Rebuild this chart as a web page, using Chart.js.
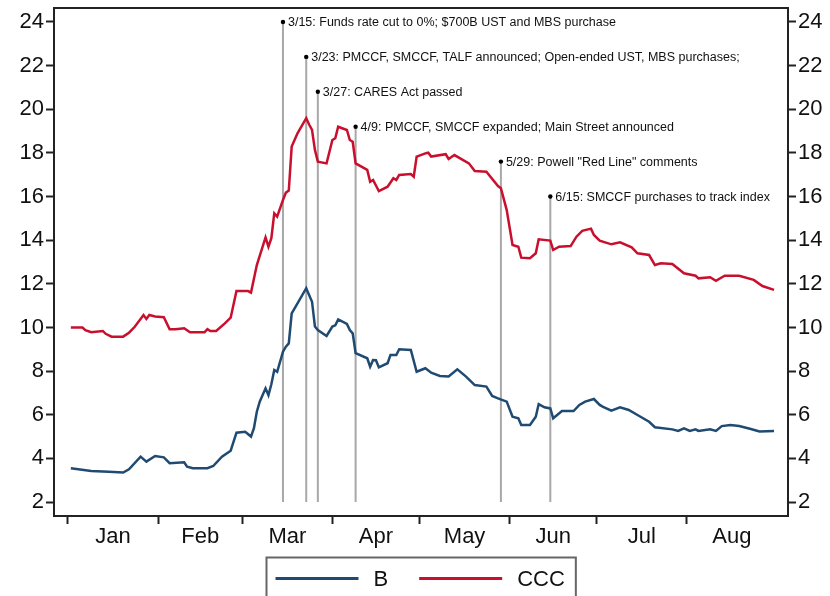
<!DOCTYPE html>
<html>
<head>
<meta charset="utf-8">
<script src="https://cdn.jsdelivr.net/npm/chart.js@4.4.0/dist/chart.umd.min.js"></script>
<style>
  html, body { margin: 0; padding: 0; background: #fff; }
</style>
</head>
<body>
<canvas id="spreadChart" width="830" height="596"></canvas>
<script>
// 2020 dates as MM-DD, values in percent
const cccDates = ['01-02','01-06','01-07','01-09','01-13','01-14','01-16','01-20','01-22','01-24','01-27','01-28','01-29','01-31',
  '02-03','02-05','02-07','02-10','02-12','02-17','02-18','02-19','02-21','02-24','02-26','02-28',
  '03-03','03-04','03-06','03-09','03-10','03-11','03-12','03-13','03-15','03-16','03-17','03-18','03-20','03-23','03-24','03-25','03-26','03-27','03-30',
  '04-01','04-02','04-03','04-06','04-07','04-08','04-09','04-13','04-14','04-15','04-17','04-20','04-22','04-23','04-24','04-28','04-29','04-30',
  '05-03','05-04','05-05','05-10','05-11','05-13','05-18','05-20','05-24','05-28','05-29','05-31',
  '06-02','06-04','06-05','06-08','06-10','06-11','06-15','06-16','06-18','06-22','06-24','06-26','06-29','06-30',
  '07-02','07-06','07-09','07-13','07-15','07-19','07-21','07-23','07-27','07-31',
  '08-04','08-05','08-09','08-11','08-14','08-19','08-24','08-27','08-31'];
const cccValues = [10.0,10.0,9.88,9.78,9.84,9.71,9.58,9.58,9.76,10.03,10.57,10.39,10.57,10.5,
  10.47,9.92,9.92,9.96,9.78,9.78,9.92,9.84,9.84,10.19,10.45,11.67,
  11.67,11.6,12.86,14.13,13.7,14.09,15.23,15.08,15.84,16.18,16.27,18.29,18.9,19.59,19.3,19.05,18.13,17.6,17.52,
  18.59,18.67,19.2,19.05,18.59,18.51,17.52,17.22,16.68,16.76,16.25,16.45,16.84,16.76,16.99,17.03,16.91,17.83,
  17.98,18.01,17.83,17.94,17.72,17.9,17.52,17.17,17.14,16.48,16.38,15.38,
  13.78,13.7,13.2,13.17,13.4,14.04,13.98,13.55,13.7,13.73,14.16,14.43,14.53,14.24,
  13.98,13.81,13.9,13.67,13.4,13.32,12.86,12.94,12.91,12.48,
  12.37,12.25,12.3,12.14,12.37,12.37,12.18,11.9,11.72];

const bDates = ['01-02','01-09','01-15','01-20','01-22','01-26','01-28','01-31',
  '02-03','02-05','02-10','02-11','02-13','02-18','02-20','02-23','02-26','02-28',
  '03-02','03-04','03-05','03-06','03-07','03-09','03-10','03-11','03-12','03-13','03-15','03-16','03-17','03-18','03-20','03-23','03-25','03-26','03-27','03-30',
  '04-01','04-02','04-03','04-06','04-07','04-08','04-09','04-13','04-14','04-15','04-16','04-17','04-20','04-21','04-23','04-24','04-28','04-30',
  '05-03','05-05','05-08','05-11','05-14','05-17','05-20','05-24','05-26','05-28','05-31',
  '06-02','06-04','06-05','06-08','06-10','06-11','06-13','06-15','06-16','06-19','06-23','06-25','06-27','06-30',
  '07-02','07-03','07-06','07-09','07-12','07-15','07-19','07-21','07-27','07-29','07-31',
  '08-02','08-04','08-05','08-09','08-11','08-13','08-16','08-19','08-23','08-26','08-31'];
const bValues = [3.55,3.42,3.39,3.35,3.5,4.08,3.85,4.11,
  4.05,3.78,3.82,3.62,3.55,3.55,3.65,4.08,4.35,5.18,
  5.22,5.0,5.38,6.14,6.6,7.21,6.9,7.4,8.05,7.97,8.89,9.12,9.27,10.65,11.1,11.8,11.18,10.04,9.88,9.61,
  10.04,10.1,10.37,10.16,9.88,9.73,8.82,8.59,8.2,8.51,8.5,8.17,8.36,8.74,8.74,9.0,8.97,7.97,
  8.13,7.93,7.78,7.75,8.08,7.75,7.36,7.29,6.86,6.75,6.6,
  5.91,5.84,5.53,5.53,5.91,6.49,6.34,6.29,5.84,6.17,6.17,6.45,6.6,6.72,
  6.45,6.37,6.19,6.34,6.22,5.99,5.68,5.43,5.33,5.26,5.38,
  5.26,5.33,5.26,5.33,5.26,5.48,5.53,5.48,5.35,5.23,5.26];

// policy events: date, height of marker, text
const eventDates = ['03-15','03-23','03-27','04-09','05-29','06-15'];
const eventLevels = [24, 22.4, 20.8, 19.2, 17.6, 16.0];
const eventLabels = [
  '3/15: Funds rate cut to 0%; $700B UST and MBS purchase',
  '3/23: PMCCF, SMCCF, TALF announced; Open-ended UST, MBS purchases;',
  '3/27: CARES Act passed',
  '4/9: PMCCF, SMCCF expanded; Main Street announced',
  '5/29: Powell "Red Line" comments',
  '6/15: SMCCF purchases to track index'
];

const monthNames = ['Jan','Feb','Mar','Apr','May','Jun','Jul','Aug'];
const monthStarts = ['01-01','02-01','03-01','04-01','05-01','06-01','07-01','08-01','09-01'];
const yTicks = [2,4,6,8,10,12,14,16,18,20,22,24];

const FONT = '"Liberation Sans", Arial, sans-serif';
const BLUE = '#1f4a72';
const RED = '#c8102e';
const INK = '#111';

function dayOfYear(md) {
  const [m, d] = md.split('-').map(Number);
  return (Date.UTC(2020, m - 1, d) - Date.UTC(2020, 0, 1)) / 864e5;
}

const startDays = monthStarts.map(dayOfYear);
const midDays = monthNames.map((_, i) => (startDays[i] + startDays[i + 1]) / 2);
const xTickValues = startDays.slice(0, 8).concat(midDays);

const series = (dates, values) => dates.map((d, i) => ({ x: dayOfYear(d), y: values[i] }));

const datasets = [
  { label: 'B', data: series(bDates, bValues), borderColor: BLUE, borderWidth: 2.5, pointRadius: 0, yAxisID: 'y' },
  { label: 'CCC', data: series(cccDates, cccValues), borderColor: RED, borderWidth: 2.5, pointRadius: 0, yAxisID: 'y' }
];
eventDates.forEach((d, i) => {
  datasets.push({
    label: eventLabels[i],
    isEvent: true,
    data: [{ x: dayOfYear(d), y: 2 }, { x: dayOfYear(d), y: eventLevels[i] }],
    borderColor: '#a8a8a8',
    borderWidth: 2,
    pointRadius: [0, 2.2],
    pointBackgroundColor: '#000',
    pointBorderWidth: 0,
    yAxisID: 'y'
  });
});

// frame around the plot area
const frame = {
  id: 'frame',
  afterDraw(chart) {
    const { ctx, chartArea: a } = chart;
    ctx.save();
    ctx.strokeStyle = '#222';
    ctx.lineWidth = 2;
    ctx.strokeRect(a.left, a.top, a.right - a.left, a.bottom - a.top);
    ctx.restore();
  }
};

// event text next to the marker dots
const eventText = {
  id: 'eventText',
  afterDatasetsDraw(chart) {
    const ctx = chart.ctx;
    ctx.save();
    ctx.font = '12.5px ' + FONT;
    ctx.fillStyle = INK;
    ctx.textBaseline = 'middle';
    chart.data.datasets.forEach((ds, i) => {
      if (!ds.isEvent) return;
      const top = chart.getDatasetMeta(i).data[1];
      ctx.fillText(ds.label, top.x + 5, top.y + 1);
    });
    ctx.restore();
  }
};

// boxed legend under the axis
const legendBox = {
  id: 'legendBox',
  afterDraw(chart) {
    const ctx = chart.ctx;
    const items = chart.data.datasets.filter(ds => !ds.isEvent);
    ctx.save();
    ctx.font = '22px ' + FONT;
    const lineLen = 83, gap = 15, itemGap = 31, padL = 9, padR = 11;
    const widths = items.map(ds => lineLen + gap + ctx.measureText(ds.label).width);
    const total = padL + padR + widths.reduce((a, b) => a + b, 0) + itemGap * (items.length - 1);
    const a = chart.chartArea;
    let x = Math.round((a.left + a.right) / 2 - total / 2) + 0.5;
    const top = a.bottom + 41.5;
    const cy = top + 21;
    ctx.strokeStyle = '#666';
    ctx.lineWidth = 2;
    ctx.strokeRect(x, top, total, 60);
    x += padL;
    items.forEach((ds, i) => {
      ctx.strokeStyle = ds.borderColor;
      ctx.lineWidth = 3;
      ctx.beginPath();
      ctx.moveTo(x, cy);
      ctx.lineTo(x + lineLen, cy);
      ctx.stroke();
      ctx.fillStyle = INK;
      ctx.textBaseline = 'middle';
      ctx.fillText(ds.label, x + lineLen + gap, cy + 1);
      x += widths[i] + itemGap;
    });
    ctx.restore();
  }
};

const yAxis = (position, width) => ({
  position: position,
  min: 1.36,
  max: 24.64,
  afterBuildTicks: s => { s.ticks = yTicks.map(v => ({ value: v })); },
  ticks: { font: { family: FONT, size: 22 }, color: INK, padding: 2, callback: v => String(v) },
  grid: { drawOnChartArea: false, tickLength: 8, tickWidth: 2, tickColor: '#222' },
  border: { color: '#222', width: 2 },
  afterFit: s => { s.width = width; s.paddingTop = 0; s.paddingBottom = 0; }
});

new Chart(document.getElementById('spreadChart'), {
  type: 'line',
  data: { datasets: datasets },
  options: {
    responsive: false,
    animation: false,
    layout: { padding: { top: 8, bottom: 39, left: 0, right: 0 } },
    plugins: { legend: { display: false }, tooltip: { enabled: false } },
    scales: {
      x: {
        type: 'linear',
        min: -4.8,
        max: 247.8,
        afterBuildTicks: s => { s.ticks = xTickValues.map(v => ({ value: v })); },
        ticks: {
          autoSkip: false, maxRotation: 0, padding: 0,
          font: { family: FONT, size: 22 }, color: INK,
          callback: v => { const k = midDays.indexOf(v); return k >= 0 ? monthNames[k] : ''; }
        },
        grid: {
          drawOnChartArea: false, tickLength: 8, tickWidth: 2,
          tickColor: c => (c.tick && startDays.includes(c.tick.value)) ? '#222' : 'rgba(0,0,0,0)'
        },
        border: { color: '#222', width: 2 },
        afterFit: s => { s.height = 41; s.paddingLeft = 0; s.paddingRight = 0; }
      },
      y: yAxis('left', 54),
      y1: yAxis('right', 42)
    }
  },
  plugins: [frame, eventText, legendBox]
});
</script>
</body>
</html>
